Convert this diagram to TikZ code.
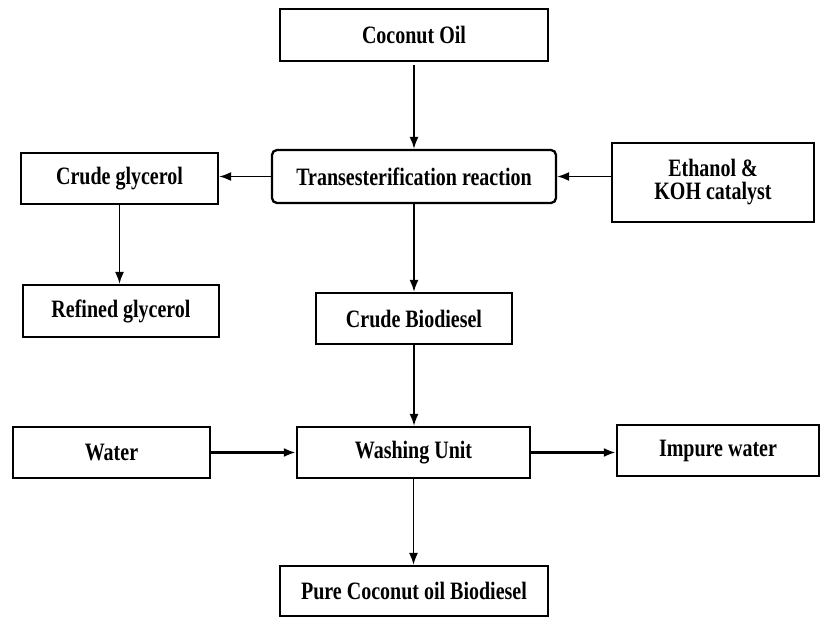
\documentclass[tikz,border=0pt]{standalone}
\usepackage{fontspec}
\setmainfont{Liberation Serif}[FakeStretch=0.8]
\usetikzlibrary{arrows.meta}
\begin{document}
\begin{tikzpicture}[x=1pt,y=-1pt,
  box/.style={draw=black, line width=2.3pt, fill=white, inner sep=0pt, align=center,
    font=\fontsize{25}{23}\selectfont\bfseries},
  flow/.style={line width=1.6pt, -{Latex[length=12pt,width=9pt]}},
  thickflow/.style={line width=2.8pt, -{Latex[length=12pt,width=9pt]}}]
\useasboundingbox (0,0) rectangle (821,617);
\node[box, minimum width=268pt, minimum height=52pt] (coco) at (414,35) {Coconut Oil};
\node[box, rounded corners=5pt, minimum width=284pt, minimum height=53pt] (trans) at (414,176.5) {Transesterification reaction};
\node[box, minimum width=197pt, minimum height=51pt] (cg) at (119.5,178.5) {Crude glycerol};
\node[box, minimum width=202pt, minimum height=79pt] (eth) at (713,182.5) {Ethanol \&\\KOH catalyst};
\node[box, minimum width=196pt, minimum height=52pt] (rg) at (121,311) {Refined glycerol};
\node[box, minimum width=196pt, minimum height=51pt] (cb) at (414,318.5) {Crude Biodiesel};
\node[box, minimum width=197pt, minimum height=51pt] (water) at (111.5,452.5) {Water};
\node[box, minimum width=233pt, minimum height=51pt] (wash) at (413.5,452.5) {Washing Unit};
\node[box, minimum width=202pt, minimum height=51pt] (imp) at (718,450.5) {Impure water};
\node[box, minimum width=268pt, minimum height=50pt] (pure) at (414,591) {Pure Coconut oil Biodiesel};
\draw[flow, shorten <=3pt] (coco.south) -- (coco.south |- trans.north);
\draw[flow] (trans.west) -- (trans.west -| cg.east);
\draw[flow] (eth.west |- trans.east) -- (trans.east);
\draw[flow] (cg.south) -- (cg.south |- rg.north);
\draw[flow] (trans.south) -- (trans.south |- cb.north);
\draw[flow] (cb.south) -- (cb.south |- wash.north);
\draw[thickflow] (water.east) -- (water.east -| wash.west);
\draw[thickflow] (wash.east) -- (wash.east -| imp.west);
\draw[flow] (wash.south) -- (wash.south |- pure.north);
\end{tikzpicture}
\end{document}
